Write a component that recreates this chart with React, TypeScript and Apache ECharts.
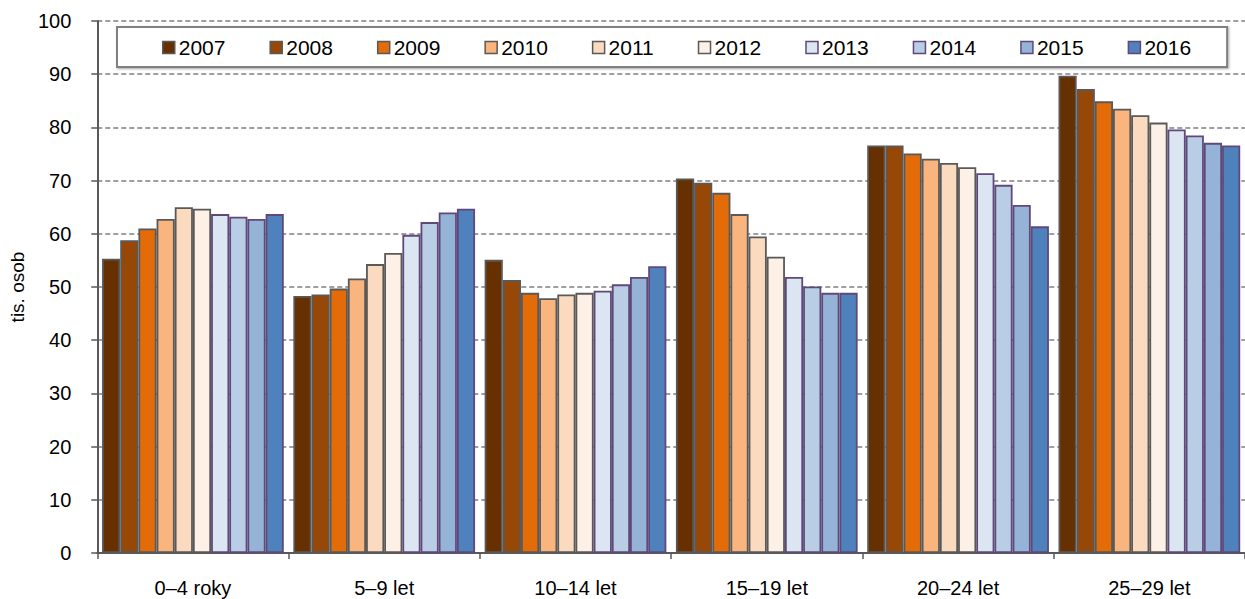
import React, { useEffect, useRef } from "react";
import * as echarts from "echarts";

const categories = ["0–4 roky", "5–9 let", "10–14 let", "15–19 let", "20–24 let", "25–29 let"];
const years = ["2007", "2008", "2009", "2010", "2011", "2012", "2013", "2014", "2015", "2016"];

const v2007 = [55.3, 48.3, 55.1, 70.4, 76.6, 89.7];
const v2008 = [58.8, 48.6, 51.3, 69.6, 76.6, 87.2];
const v2009 = [61.0, 49.7, 48.9, 67.7, 75.1, 84.9];
const v2010 = [62.8, 51.6, 47.9, 63.7, 74.1, 83.5];
const v2011 = [65.0, 54.3, 48.6, 59.5, 73.3, 82.3];
const v2012 = [64.7, 56.4, 48.9, 55.7, 72.5, 80.9];
const v2013 = [63.7, 59.8, 49.3, 51.9, 71.4, 79.6];
const v2014 = [63.2, 62.2, 50.5, 50.1, 69.2, 78.5];
const v2015 = [62.8, 64.0, 51.9, 48.9, 65.4, 77.1];
const v2016 = [63.7, 64.7, 53.9, 48.9, 61.4, 76.6];

const seriesValues = [v2007, v2008, v2009, v2010, v2011, v2012, v2013, v2014, v2015, v2016];
const fillColors = ["#663000", "#974806", "#E36C09", "#F9B57D", "#FBDBBF", "#FDF0E6", "#DCE6F2", "#B9CDE5", "#95B3D7", "#4F81BD"];
const borderColors = ["#595959", "#595959", "#595959", "#595959", "#595959", "#595959", "#5F497A", "#5F497A", "#5F497A", "#5F497A"];

const FONT = "'Liberation Sans', Arial, sans-serif";

export default function App() {
  const ref = useRef<HTMLDivElement>(null);
  useEffect(() => {
    if (!ref.current) return;
    const chart = echarts.init(ref.current, null, { renderer: "svg" });
    chart.setOption({
      animation: false,
      backgroundColor: "#ffffff",
      textStyle: { fontFamily: FONT },
      grid: { left: 95, right: -8, top: 21, bottom: 46, containLabel: false },
      legend: {
        data: years,
        left: 117,
        top: 27,
        orient: "horizontal",
        itemWidth: 12,
        itemHeight: 12,
        itemGap: 44,
        padding: [10, 36, 9, 45],
        borderColor: "#808080",
        borderWidth: 2,
        backgroundColor: "#ffffff",
        shadowColor: "rgba(0,0,0,0.35)",
        shadowBlur: 2,
        shadowOffsetX: 1,
        shadowOffsetY: 1,
        icon: "rect",
        textStyle: { fontSize: 21, color: "#000", fontFamily: FONT, padding: [0, 0, 0, -1] },
        itemStyle: { borderWidth: 1.5 },
      },
      xAxis: {
        type: "category",
        data: categories,
        axisLine: { lineStyle: { color: "#595959", width: 2 } },
        axisTick: { show: true, length: 6, lineStyle: { color: "#595959", width: 1.5 } },
        axisLabel: { fontSize: 20, color: "#000", margin: 25, fontFamily: FONT },
        splitLine: { show: false },
      },
      yAxis: {
        type: "value",
        min: 0,
        max: 100,
        interval: 10,
        name: "tis. osob",
        nameLocation: "middle",
        nameRotate: 90,
        nameGap: 70,
        nameTextStyle: { fontSize: 19, color: "#000", fontFamily: FONT },
        axisLine: { show: true, lineStyle: { color: "#595959", width: 2 } },
        axisTick: { show: true, length: 6, lineStyle: { color: "#595959", width: 1.5 } },
        axisLabel: { fontSize: 20, color: "#000", margin: 26, fontFamily: FONT },
        splitLine: { show: true, lineStyle: { color: "#808080", type: [5, 3], width: 1.5 } },
      },
      series: years.map((y, i) => ({
        name: y,
        type: "bar",
        data: seriesValues[i],
        barGap: "0%",
        barCategoryGap: "5%",
        itemStyle: { color: fillColors[i], borderColor: borderColors[i], borderWidth: 1.8 },
      })),
    });
    return () => chart.dispose();
  }, []);
  return <div ref={ref} style={{ position: "fixed", left: 0, top: 0, width: 1245, height: 599 }} />;
}
